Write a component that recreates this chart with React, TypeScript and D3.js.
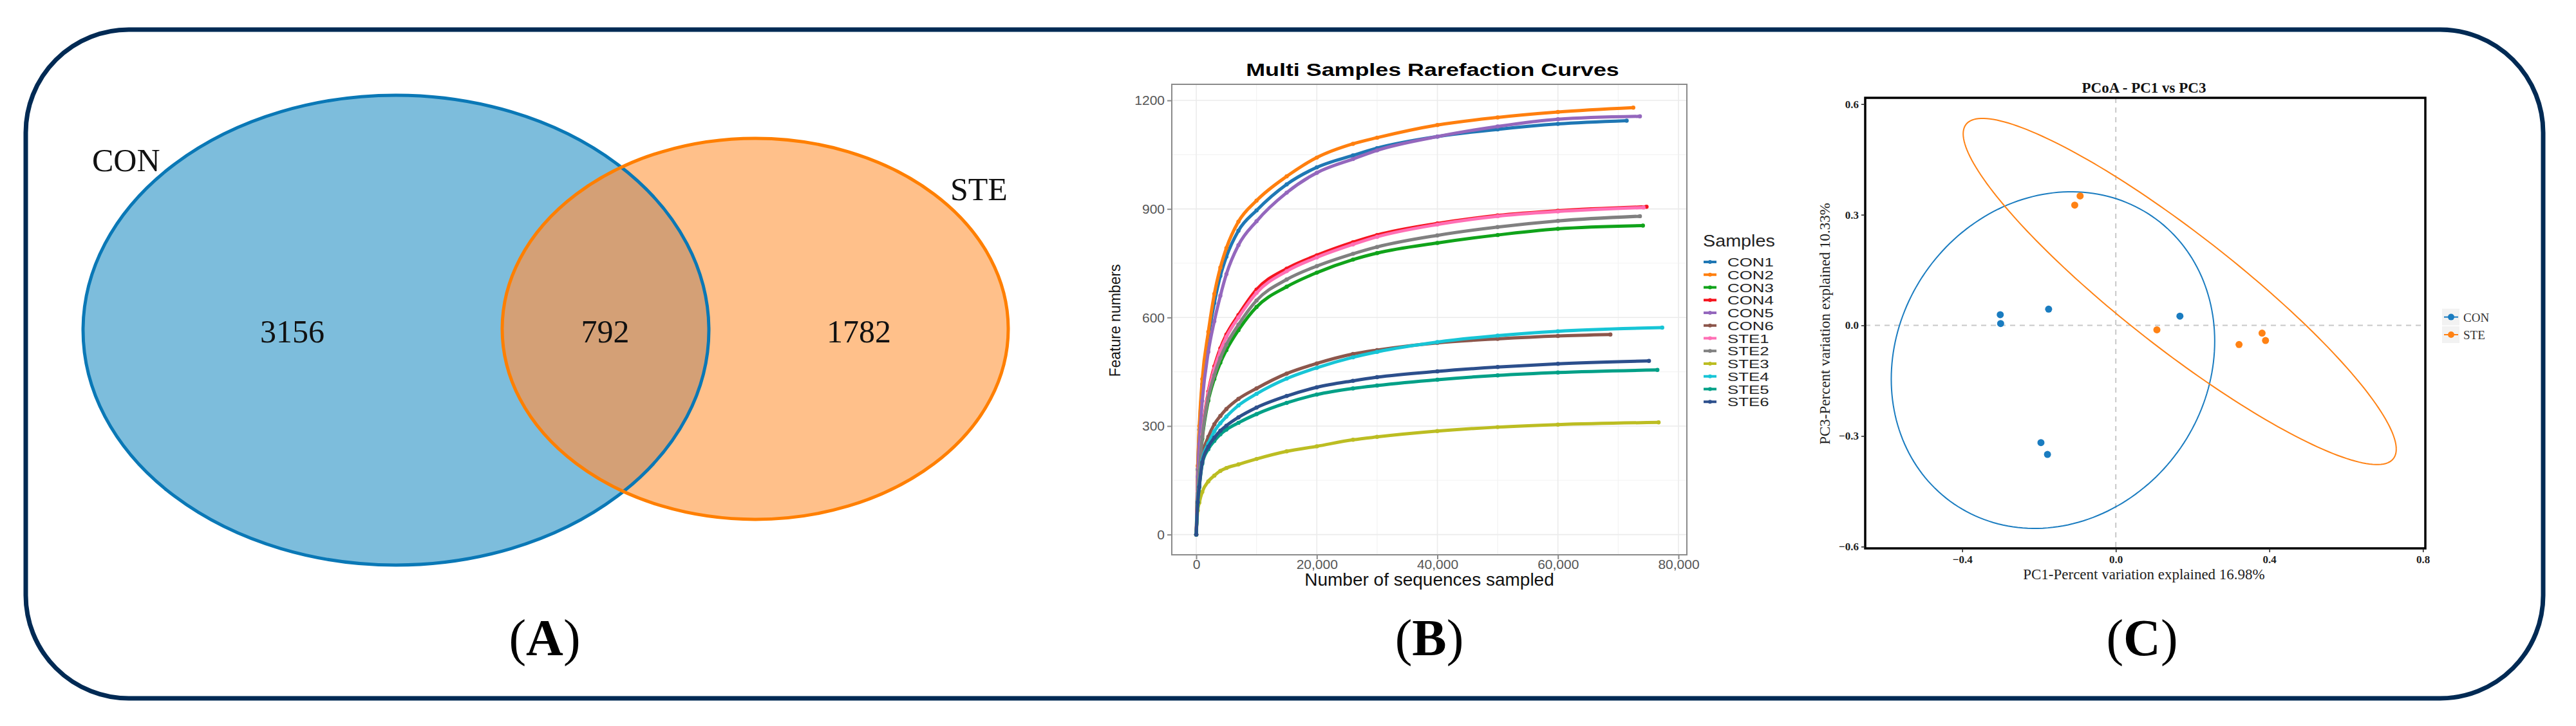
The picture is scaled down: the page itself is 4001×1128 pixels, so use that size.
import { useEffect, useRef } from "react";
import * as d3 from "d3";

// ---- Panel A: Venn ----
const VENN_SETS = ["CON", "STE"];
const VENN_COUNTS = [3156, 792, 1782]; // CON only, shared, STE only

// ---- Panel B: rarefaction ----
const SAMPLE_NAMES = ["CON1", "CON2", "CON3", "CON4", "CON5", "CON6", "STE1", "STE2", "STE3", "STE4", "STE5", "STE6"];
const SAMPLE_COLORS = ["#1f77b4", "#ff7f0e", "#10a31a", "#f5141e", "#9467bd", "#8c564b", "#ff6fb5", "#808080", "#bcbd22", "#17c5d6", "#00a087", "#2c4f8c"];
const RARE_DEPTHS = [0, 250, 500, 1000, 2000, 3000, 4000, 5000, 7000, 10000, 15000, 20000, 26000, 30000, 40000, 50000, 60000];
const SAMPLE_END_DEPTH = [71400, 72500, 74100, 74700, 73600, 68700, 74200, 73600, 76700, 77300, 76500, 75100];
// feature counts at RARE_DEPTHS, last value at SAMPLE_END_DEPTH
const SAMPLE_FEATURES = [
  [0, 180, 290, 415, 545, 640, 715, 768, 840, 896, 968, 1015, 1048, 1068, 1100, 1120, 1135, 1144],
  [0, 190, 300, 430, 560, 665, 738, 792, 865, 923, 990, 1042, 1080, 1097, 1132, 1153, 1168, 1180],
  [0, 112, 175, 265, 370, 430, 475, 510, 565, 629, 685, 724, 760, 778, 806, 828, 845, 854],
  [0, 120, 185, 280, 395, 465, 515, 553, 607, 677, 735, 772, 808, 828, 860, 882, 895, 906],
  [0, 160, 250, 370, 505, 590, 660, 720, 800, 866, 945, 1000, 1038, 1062, 1100, 1128, 1148, 1156],
  [0, 95, 140, 215, 270, 305, 328, 347, 375, 404, 445, 473, 499, 510, 530, 541, 549, 553],
  [0, 118, 182, 277, 390, 458, 508, 546, 600, 668, 728, 766, 802, 823, 857, 880, 893, 904],
  [0, 115, 178, 270, 378, 440, 488, 525, 580, 647, 705, 742, 776, 795, 827, 850, 867, 880],
  [0, 67, 88, 118, 147, 163, 176, 184, 194, 209, 230, 244, 262, 270, 286, 297, 304, 310],
  [0, 92, 135, 205, 252, 285, 308, 326, 357, 389, 431, 461, 490, 505, 532, 550, 562, 572],
  [0, 88, 130, 196, 236, 259, 277, 290, 309, 333, 364, 387, 404, 412, 428, 440, 448, 455],
  [0, 90, 132, 200, 243, 268, 287, 301, 324, 351, 383, 407, 425, 435, 451, 463, 472, 480],
];
const RARE_X_TICKS = [0, 20000, 40000, 60000, 80000];
const RARE_Y_TICKS = [0, 300, 600, 900, 1200];

// ---- Panel C: PCoA ----
const PCOA_GROUPS = ["CON", "STE"];
const PCOA_COLORS = ["#1a7cc0", "#ff8214"];
const PCOA_PC1 = [
  [-0.301, -0.3, -0.175, 0.167, -0.195, -0.178],
  [-0.093, -0.107, 0.107, 0.321, 0.381, 0.39],
];
const PCOA_PC3 = [
  [0.029, 0.005, 0.044, 0.025, -0.318, -0.35],
  [0.351, 0.326, -0.012, -0.052, -0.021, -0.041],
];
const PCOA_X_TICKS = [-0.4, 0, 0.4, 0.8];
const PCOA_Y_TICKS = [-0.6, -0.3, 0, 0.3, 0.6];

const SERIF = "'Liberation Serif', 'Times New Roman', serif";
const SANS = "'Liberation Sans', Arial, sans-serif";

type Sel = d3.Selection<SVGSVGElement, unknown, null, undefined>;

// the source figure is stretched sideways a bit; widen some texts to match
function stretch(t: d3.Selection<SVGTextElement, unknown, null, undefined>, k: number) {
  const node = t.node();
  if (!node) return;
  const w = node.getComputedTextLength();
  t.attr("textLength", w * k).attr("lengthAdjust", "spacingAndGlyphs");
}

function panelLabel(svg: Sel, x: number, letter: string) {
  const t = svg.append("text").attr("x", x).attr("y", 1018).attr("text-anchor", "middle")
    .style("font-family", SERIF).style("font-size", "80px").style("fill", "#000");
  t.append("tspan").text("(");
  t.append("tspan").style("font-weight", "700").text(letter);
  t.append("tspan").text(")");
}

function drawVenn(svg: Sel) {
  const g = svg.append("g");
  const con = { cx: 615, cy: 513, rx: 486, ry: 365 };
  const ste = { cx: 1173, cy: 511, rx: 393, ry: 296 };

  svg.append("defs").append("clipPath").attr("id", "clip-con")
    .append("ellipse").attr("cx", con.cx).attr("cy", con.cy).attr("rx", con.rx).attr("ry", con.ry);

  g.append("ellipse").attr("cx", con.cx).attr("cy", con.cy).attr("rx", con.rx).attr("ry", con.ry).attr("fill", "#7dbddc");
  g.append("ellipse").attr("cx", ste.cx).attr("cy", ste.cy).attr("rx", ste.rx).attr("ry", ste.ry).attr("fill", "#ffc08a");
  g.append("ellipse").attr("cx", ste.cx).attr("cy", ste.cy).attr("rx", ste.rx).attr("ry", ste.ry)
    .attr("fill", "#d4a076").attr("clip-path", "url(#clip-con)");
  g.append("ellipse").attr("cx", con.cx).attr("cy", con.cy).attr("rx", con.rx).attr("ry", con.ry)
    .attr("fill", "none").attr("stroke", "#0a78b6").attr("stroke-width", 5);
  g.append("ellipse").attr("cx", ste.cx).attr("cy", ste.cy).attr("rx", ste.rx).attr("ry", ste.ry)
    .attr("fill", "none").attr("stroke", "#ff7f00").attr("stroke-width", 5);

  const txt = (x: number, y: number, s: string, anchor = "middle") =>
    g.append("text").attr("x", x).attr("y", y).attr("text-anchor", anchor)
      .style("font-family", SERIF).style("font-size", "50px").style("fill", "#111").text(s);

  txt(143, 266, VENN_SETS[0], "start");
  txt(1476, 311, VENN_SETS[1], "start");
  txt(454, 532, String(VENN_COUNTS[0]));
  txt(940, 532, String(VENN_COUNTS[1]));
  txt(1334, 532, String(VENN_COUNTS[2]));

  panelLabel(svg, 846, "A");
}

function drawRarefaction(svg: Sel) {
  const g = svg.append("g");
  const left = 1820, right = 2620, top = 131, bottom = 862;
  const x = d3.scaleLinear().domain([-4059, 81388]).range([left, right]);
  const y = d3.scaleLinear().domain([-55.9, 1244.5]).range([bottom, top]);

  // grid (minor then major)
  const minorX = RARE_X_TICKS.slice(0, -1).map((d) => d + 10000);
  const minorY = RARE_Y_TICKS.slice(0, -1).map((d) => d + 150);
  g.selectAll(".mx").data(minorX).enter().append("line")
    .attr("x1", (d) => x(d)).attr("x2", (d) => x(d)).attr("y1", top).attr("y2", bottom)
    .attr("stroke", "#f3f3f3").attr("stroke-width", 1.2);
  g.selectAll(".my").data(minorY).enter().append("line")
    .attr("x1", left).attr("x2", right).attr("y1", (d) => y(d)).attr("y2", (d) => y(d))
    .attr("stroke", "#f3f3f3").attr("stroke-width", 1.2);
  g.selectAll(".gx").data(RARE_X_TICKS).enter().append("line")
    .attr("x1", (d) => x(d)).attr("x2", (d) => x(d)).attr("y1", top).attr("y2", bottom)
    .attr("stroke", "#ebebeb").attr("stroke-width", 1.6);
  g.selectAll(".gy").data(RARE_Y_TICKS).enter().append("line")
    .attr("x1", left).attr("x2", right).attr("y1", (d) => y(d)).attr("y2", (d) => y(d))
    .attr("stroke", "#ebebeb").attr("stroke-width", 1.6);

  // curves
  const line = d3.line<[number, number]>().x((d) => x(d[0])).y((d) => y(d[1])).curve(d3.curveMonotoneX);
  SAMPLE_NAMES.forEach((name, i) => {
    const vals = SAMPLE_FEATURES[i];
    const pts: [number, number][] = RARE_DEPTHS.map((d, j) => [d, vals[j]] as [number, number]);
    pts.push([SAMPLE_END_DEPTH[i], vals[vals.length - 1]]);
    const sg = g.append("g").attr("data-name", name);
    sg.append("path").attr("d", line(pts)).attr("fill", "none")
      .attr("stroke", SAMPLE_COLORS[i]).attr("stroke-width", 5).attr("stroke-linecap", "round");
    sg.selectAll("circle").data(pts).enter().append("circle")
      .attr("cx", (d) => x(d[0])).attr("cy", (d) => y(d[1])).attr("r", 3.2)
      .attr("fill", SAMPLE_COLORS[i]);
  });

  // border
  g.append("rect").attr("x", left).attr("y", top).attr("width", right - left).attr("height", bottom - top)
    .attr("fill", "none").attr("stroke", "#8a8a8a").attr("stroke-width", 2);

  // axes
  const yAxis = d3.axisLeft(y).tickValues(RARE_Y_TICKS).tickSize(7).tickPadding(4).tickFormat((d) => String(d));
  const ya = g.append("g").attr("transform", `translate(${left},0)`).call(yAxis);
  const xAxis = d3.axisBottom(x).tickValues(RARE_X_TICKS).tickSize(7).tickPadding(0).tickFormat((d) => d3.format(",")(d as number));
  const xa = g.append("g").attr("transform", `translate(0,${bottom})`).call(xAxis);
  [ya, xa].forEach((a) => {
    a.select(".domain").remove();
    a.selectAll("line").attr("stroke", "#8a8a8a").attr("stroke-width", 2);
    a.selectAll("text").style("font-family", SANS).style("font-size", "21px").style("fill", "#555");
  });

  const title = g.append("text").attr("x", 2225).attr("y", 118).attr("text-anchor", "middle")
    .style("font-family", SANS).style("font-size", "28px").style("font-weight", "700").style("fill", "#000")
    .text("Multi Samples Rarefaction Curves");
  stretch(title, 1.28);
  g.append("text").attr("x", (left + right) / 2).attr("y", 910).attr("text-anchor", "middle")
    .style("font-family", SANS).style("font-size", "28px").style("fill", "#111")
    .text("Number of sequences sampled");
  g.append("text").attr("transform", "translate(1740,498) rotate(-90)").attr("text-anchor", "middle")
    .style("font-family", SANS).style("font-size", "23px").style("fill", "#111")
    .text("Feature numbers");

  // legend
  const lg = g.append("g");
  const lt = lg.append("text").attr("x", 2645).attr("y", 383)
    .style("font-family", SANS).style("font-size", "25px").style("fill", "#222").text("Samples");
  stretch(lt, 1.15);
  SAMPLE_NAMES.forEach((name, i) => {
    const cy = 407 + i * 19.75;
    lg.append("line").attr("x1", 2646).attr("x2", 2666).attr("y1", cy).attr("y2", cy)
      .attr("stroke", SAMPLE_COLORS[i]).attr("stroke-width", 4);
    lg.append("circle").attr("cx", 2656).attr("cy", cy).attr("r", 3).attr("fill", SAMPLE_COLORS[i]);
    const t = lg.append("text").attr("x", 2683).attr("y", cy + 7)
      .style("font-family", SANS).style("font-size", "19px").style("fill", "#222").text(name);
    stretch(t, 1.36);
  });

  panelLabel(svg, 2220, "B");
}

function ellipsePoints(xs: number[], ys: number[]): [number, number][] {
  const n = xs.length;
  const mx = d3.mean(xs) as number;
  const my = d3.mean(ys) as number;
  let sxx = 0, syy = 0, sxy = 0;
  for (let i = 0; i < n; i++) {
    sxx += (xs[i] - mx) ** 2;
    syy += (ys[i] - my) ** 2;
    sxy += (xs[i] - mx) * (ys[i] - my);
  }
  sxx /= n - 1; syy /= n - 1; sxy /= n - 1;
  // cholesky of covariance
  const l11 = Math.sqrt(sxx);
  const l21 = sxy / l11;
  const l22 = Math.sqrt(syy - l21 * l21);
  const r = Math.sqrt(-2 * Math.log(0.05)); // 95% chi-square, 2 df
  return d3.range(0, 201).map((k) => {
    const t = (k / 200) * 2 * Math.PI;
    const c = Math.cos(t), s = Math.sin(t);
    return [mx + r * l11 * c, my + r * (l21 * c + l22 * s)] as [number, number];
  });
}

function drawPcoa(svg: Sel) {
  const g = svg.append("g");
  const left = 2897, right = 3767, top = 152, bottom = 852;
  const x = d3.scaleLinear().domain([-0.6528, 0.8063]).range([left, right]);
  const y = d3.scaleLinear().domain([-0.6047, 0.617]).range([bottom, top]);

  // zero reference lines
  g.append("line").attr("x1", x(0)).attr("x2", x(0)).attr("y1", top).attr("y2", bottom)
    .attr("stroke", "#c8c8c8").attr("stroke-width", 2).attr("stroke-dasharray", "8,7");
  g.append("line").attr("x1", left).attr("x2", right).attr("y1", y(0)).attr("y2", y(0))
    .attr("stroke", "#c8c8c8").attr("stroke-width", 2).attr("stroke-dasharray", "8,7");

  const line = d3.line<[number, number]>().x((d) => x(d[0])).y((d) => y(d[1]));
  PCOA_GROUPS.forEach((_, gi) => {
    g.append("path").attr("d", line(ellipsePoints(PCOA_PC1[gi], PCOA_PC3[gi])))
      .attr("fill", "none").attr("stroke", PCOA_COLORS[gi]).attr("stroke-width", 2);
  });
  PCOA_GROUPS.forEach((_, gi) => {
    PCOA_PC1[gi].forEach((v, j) => {
      g.append("circle").attr("cx", x(v)).attr("cy", y(PCOA_PC3[gi][j])).attr("r", 5.5)
        .attr("fill", PCOA_COLORS[gi]);
    });
  });

  g.append("rect").attr("x", left).attr("y", top).attr("width", right - left).attr("height", bottom - top)
    .attr("fill", "none").attr("stroke", "#000").attr("stroke-width", 3.5);

  const fmt = d3.format(".1f");
  const yAxis = d3.axisLeft(y).tickValues(PCOA_Y_TICKS).tickSize(6).tickPadding(4).tickFormat((d) => fmt(d as number));
  const xAxis = d3.axisBottom(x).tickValues(PCOA_X_TICKS).tickSize(6).tickPadding(5).tickFormat((d) => fmt(d as number));
  const ya = g.append("g").attr("transform", `translate(${left},0)`).call(yAxis);
  const xa = g.append("g").attr("transform", `translate(0,${bottom})`).call(xAxis);
  [ya, xa].forEach((a) => {
    a.select(".domain").remove();
    a.selectAll("line").attr("stroke", "#222").attr("stroke-width", 1.5);
    a.selectAll("text").style("font-family", SERIF).style("font-size", "17px").style("font-weight", "700").style("fill", "#222");
  });

  g.append("text").attr("x", 3330).attr("y", 144).attr("text-anchor", "middle")
    .style("font-family", SERIF).style("font-size", "23px").style("font-weight", "700").style("fill", "#111")
    .text("PCoA - PC1 vs PC3");
  g.append("text").attr("x", 3330).attr("y", 900).attr("text-anchor", "middle")
    .style("font-family", SERIF).style("font-size", "23px").style("fill", "#222")
    .text("PC1-Percent variation explained 16.98%");
  g.append("text").attr("transform", "translate(2842,503) rotate(-90)").attr("text-anchor", "middle")
    .style("font-family", SERIF).style("font-size", "23px").style("fill", "#222")
    .text("PC3-Percent variation explained 10.33%");

  // legend
  PCOA_GROUPS.forEach((name, gi) => {
    const cy = 492.6 + gi * 27.4;
    g.append("rect").attr("x", 3793).attr("y", cy - 13).attr("width", 27).attr("height", 26).attr("fill", "#f2f2f2");
    g.append("line").attr("x1", 3796).attr("x2", 3818).attr("y1", cy).attr("y2", cy)
      .attr("stroke", PCOA_COLORS[gi]).attr("stroke-width", 2);
    g.append("circle").attr("cx", 3807).attr("cy", cy).attr("r", 5).attr("fill", PCOA_COLORS[gi]);
    g.append("text").attr("x", 3826).attr("y", cy + 7)
      .style("font-family", SERIF).style("font-size", "19px").style("fill", "#333").text(name);
  });

  panelLabel(svg, 3327, "C");
}

export default function App() {
  const svgRef = useRef<SVGSVGElement>(null);

  useEffect(() => {
    if (!svgRef.current) return;
    const svg = d3.select(svgRef.current);
    svg.selectAll("*").remove();

    // outer rounded frame
    svg.append("rect").attr("x", 40).attr("y", 46).attr("width", 3910).attr("height", 1039)
      .attr("rx", 160).attr("ry", 160).attr("fill", "none").attr("stroke", "#002a54").attr("stroke-width", 7);

    drawVenn(svg);
    drawRarefaction(svg);
    drawPcoa(svg);

    return () => {
      svg.selectAll("*").remove();
    };
  }, []);

  return (
    <svg
      ref={svgRef}
      width={4001}
      height={1128}
      style={{ position: "absolute", left: 0, top: 0, background: "#fff" }}
    />
  );
}
